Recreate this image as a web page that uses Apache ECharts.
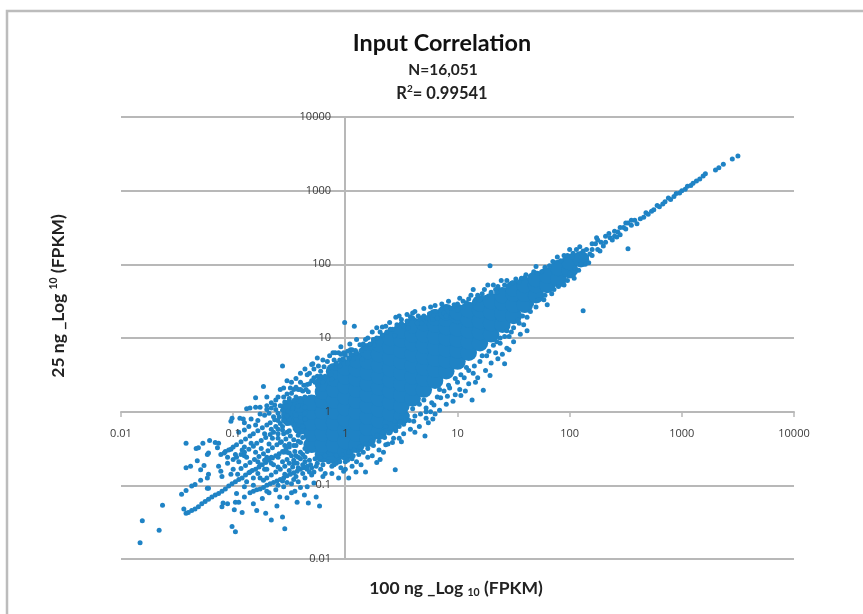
<!DOCTYPE html>
<html><head><meta charset="utf-8">
<script src="https://cdn.jsdelivr.net/npm/echarts@6/dist/echarts.min.js"></script>
<style>html,body{margin:0;padding:0;background:#fff}#c{width:863px;height:614px;filter:blur(0.45px)}</style>
</head><body><div id="c"></div>
<script>
// All values are log10(FPKM) pairs [100 ng, 25 ng].
const tickValues=[0.01,0.1,1,10,100,1000,10000];
const coreBand=[
[-.5,-.08],[-.5,.05],
[-.4,-.2],[-.4,-.05],[-.4,.1],
[-.3,-.45],[-.3,-.3],[-.3,-.15],[-.3,0],[-.3,.12],
[-.2,-.58],[-.2,-.45],[-.2,-.3],[-.2,-.15],[-.2,0],[-.2,.15],[-.2,.27],[-.2,.38],
[-.1,-.6],[-.1,-.45],[-.1,-.3],[-.1,-.15],[-.1,0],[-.1,.15],[-.1,.3],[-.1,.45],[-.1,.55],
[0,-.55],[0,-.4],[0,-.25],[0,-.1],[0,.05],[0,.2],[0,.35],[0,.48],[0,.6],
[.1,-.45],[.1,-.3],[.1,-.15],[.1,0],[.1,.15],[.1,.3],[.1,.45],[.1,.58],[.1,.7],
[.2,-.37],[.2,-.22],[.2,-.07],[.2,.08],[.2,.23],[.2,.38],[.2,.53],[.2,.68],[.2,.82],
[.3,-.27],[.3,-.12],[.3,.03],[.3,.18],[.3,.33],[.3,.48],[.3,.63],[.3,.78],[.3,.92],
[.4,-.17],[.4,-.02],[.4,.13],[.4,.28],[.4,.43],[.4,.58],[.4,.73],[.4,.88],[.4,1],
[.5,-.07],[.5,.08],[.5,.23],[.5,.38],[.5,.53],[.5,.68],[.5,.83],[.5,.98],[.5,1.1],
[.6,.18],[.6,.33],[.6,.48],[.6,.63],[.6,.78],[.6,.93],[.6,1.05],[.6,1.17],
[.7,.3],[.7,.45],[.7,.6],[.7,.75],[.7,.9],[.7,1.05],[.7,1.2],
[.8,.42],[.8,.57],[.8,.72],[.8,.87],[.8,1.02],[.8,1.18],[.8,1.28],
[.9,.55],[.9,.7],[.9,.85],[.9,1],[.9,1.15],[.9,1.26],[.9,1.35],
[1,.68],[1,.83],[1,.98],[1,1.13],[1,1.3],[1,1.35],
[1.1,.8],[1.1,.95],[1.1,1.1],[1.1,1.25],[1.1,1.38],
[1.2,.93],[1.2,1.08],[1.2,1.23],[1.2,1.38],[1.2,1.47],
[1.3,1.05],[1.3,1.2],[1.3,1.35],[1.3,1.5],
[1.4,1.18],[1.4,1.33],[1.4,1.48],[1.4,1.58],
[1.5,1.3],[1.5,1.45],[1.5,1.6],[1.5,1.67],
[1.6,1.45],[1.6,1.6],[1.6,1.72],
[1.7,1.58],[1.7,1.72],[1.7,1.8],
[1.8,1.72],[1.8,1.85],
[1.9,1.8],[1.9,1.95],
[2,1.92],[2,2.03],[2.1,2.07]
];
const lowerLeftOutliers=[
[-1.83,-1.78],[-1.81,-1.48],[-1.66,-1.61],[-1.63,-1.27],[-1.46,-1.12],[-1.42,-1.07],[-1.44,-1.32],[-1.42,-1.38],
[-1.01,-1.56],[-.98,-1.63],[-.54,-1.59],[-.66,-1.47],[-.56,-1.43],[-.71,-1.38],[-.79,-1.34],[-.92,-1.37],[-.99,-1.33],
[-1.1,-1.29],[-1.05,-1.25],[-1.09,-1.24],[-.98,-1.23],[-.95,-1.23],[-.97,-1.11],[-.9,-1.16],[-.82,-1.25],[-.74,-1.18],
[-.61,-1.28],[-.585,-1.16],[-.52,-1.17],[-.43,-1.23],[-.33,-1.24],[-.23,-1.28],[-.26,-1.16],[-.365,-1.13],[-.45,-1.08],
[-.28,-.97],[-.015,-.81],[.03,-.9],[.095,-.82],[.18,-.82],[.445,-.79],[.28,-.69],[.31,-.65],[.5,-.41],[.36,-.45],[.43,-.36]
];
const upperLeftOutliers=[
[-1.42,-.43],[-1.33,-.5],[-1.31,-.49],[-1.27,-.43],[-1.21,-.39],[-1.16,-.42],[-1.13,-.43],[-1.14,-.49],[-1.22,-.56],[-1.23,-.58],
[-1.32,-.665],[-1.38,-.74],[-1.42,-.76],[-1.29,-.79],[-1.26,-.73],[-1.22,-.85],[-1.23,-.9],[-1.29,-.93],[-1.34,-.99],[-1.37,-1.01],
[-1.23,-1.04],[-1.22,-1.04],[-1.13,-.74],[-1.11,-.81],[-1.1,-.88],[-1.02,-.85],[-1.11,-.58],[-1.07,-.54],[-1.02,-.51],[-1.01,-.09],
[-1.02,-.13],[-.94,-.09],[-.91,-.1],[-.88,.04],[-.85,.05],[-.8,.06],[-.76,.06],[-.7,.08],[-.8,.19],[-.73,.34],[-.62,.16],[-.63,.09],
[-.56,.62],[-.55,.32],[-.48,.4],[-.49,.32],[-.48,.25],[-.34,.5],[-.34,.37],[-.3,.64],[-.25,.73],[-.16,.68],[-.09,.8],[-.06,.8],
[-.006,1.21],[.08,1.16],[-.09,.59],[-.19,.61],[-.22,.48],[-.28,.46],[-.13,.5],[-.015,.8],[.045,.84],[.13,.91],[.18,.98],[.31,1.08],
[.33,1.15],[.395,1.21],[.15,.71],[-.04,.88],[.06,.84],[.09,.83],[0,.77],[-.11,.8],[-.29,.65],[-.42,.3],[-.44,.2],[-.38,.28],[-.4,.4],
[-.36,.2],[-.33,.27],[-.2,.4],[-.24,.36],[-.12,.44],[-.05,.62],[.02,.66],[.07,.72],[.22,.86],[.26,.9]
];
const streakMain=[
[-1.4,-1.37],[-1.37,-1.34],[-1.34,-1.32],[-1.31,-1.29],[-1.28,-1.25],[-1.25,-1.22],[-1.22,-1.19],[-1.19,-1.16],[-1.16,-1.13],[-1.13,-1.11],
[-1.1,-1.08],[-1.07,-1.05],[-1.04,-1.01],[-1.01,-.98],[-.98,-.95],[-.95,-.92],[-.92,-.9],[-.89,-.86],[-.86,-.83],[-.83,-.8],[-.8,-.78],
[-.77,-.75],[-.74,-.72],[-.71,-.69],[-.68,-.66],[-.65,-.63],[-.62,-.6],[-.59,-.57],[-.56,-.54],[-.53,-.51],[-.5,-.48]
];
const streakLower=[
[-.85,-1.1],[-.82,-1.08],[-.79,-1.06],[-.76,-1.05],[-.73,-1.03],[-.7,-1],[-.67,-.98],[-.64,-.96],[-.61,-.94],[-.58,-.92],[-.55,-.9],
[-.52,-.87],[-.49,-.85],[-.46,-.83],[-.43,-.81],[-.4,-.78],[-.37,-.76],[-.34,-.74],[-.31,-.72]
];
const streakUpper=[
[-1.08,-.56],[-1.04,-.52],[-1,-.48],[-.97,-.45],[-.93,-.41],[-.89,-.37],[-.85,-.33],[-.82,-.3],[-.78,-.26],[-.74,-.22],[-.7,-.18],
[-.67,-.15],[-.63,-.11],[-.59,-.07],[-.55,-.03],[-.51,.01],[-.47,.05]
];
const streakMiddle=[
[-1,-.65],[-.97,-.62],[-.93,-.58],[-.9,-.55],[-.86,-.51],[-.82,-.47],[-.79,-.43],[-.75,-.39],[-.71,-.35],[-.67,-.31],[-.64,-.28],[-.6,-.24],
[-.56,-.2],[-.52,-.16],[-.93,-.77],[-.89,-.73],[-.85,-.69],[-.81,-.65],[-.77,-.61],[-.73,-.57],[-.69,-.53],[-.65,-.49],[-.61,-.45],[-.57,-.41],[-.53,-.37],[-.49,-.33],
[-.73,-.93],[-.7,-.9],[-.66,-.86],[-.62,-.82],[-.58,-.78],[-.54,-.74],[-.5,-.7],[-.46,-.66],[-.42,-.62],[-.38,-.58],[-.34,-.54]
];
const leftFill=[
[-.95,-.28],[-.9,-.25],[-.78,-.12],[-.72,-.05],[-.68,-.02],[-.62,.03],[-.58,.08],[-.54,.13],[-.5,.18],[-.46,.15],[-.42,.08],[-.4,.14],[-.44,-.05],[-.5,-.1],[-.46,-.18],[-.4,-.08],
[-.42,-.25],[-.38,-.2],[-.38,-.35],[-.36,-.02],[-.36,-.1],[-.36,.06],[-.4,-.42],[-.44,-.46],[-.36,-.5],[-.4,-.55],[-.36,-.62],[-.32,-.66],[-.27,-.64],[-.22,-.62],[-.18,-.6],[-.13,-.58],
[-.08,-.6],[-.03,-.58],[.03,-.55],[.08,-.52],[.13,-.48],[.18,-.44],[.23,-.4],[.28,-.32],[-.28,-.82],[-.22,-.78],[-.18,-.84],[-.12,-.74],[-.08,-.7],[-.04,-.76],[0,-.68],[.06,-.64],[.1,-.68],
[-.6,-.75],[-.56,-.68],[-.66,-.7],[-.72,-.78],[-.78,-.84],[-.82,-.9],[-.88,-.95],[-.62,-1.06],[-.68,-1.1],[-.55,-1.02],[-.48,-.98],[-.42,-.95],[-.36,-.9],[-.3,-.86],[-.48,-1.1],[-.4,-1.03],[-.34,-1.02],
[-.9,-.6],[-.85,-.82],[-.75,-.5],[-.68,-.44],[-.6,-.36],[-.55,-.3],[-.5,-.26],[-.5,-.56],[-.55,-.55],[-.45,-.54],[-.47,-.75],[-.43,-.7],[-.6,-.62],[-.66,-.62],[-.72,-.66],[-.46,-.38],[-.42,-.32],
[-.78,-.68],[-.95,-.68],[-1,-.78],[-.96,-.85],[-.9,-.48],[-.84,-.43],[-.8,-.18],[-.86,-.2],[-.72,-.3],[-.66,-.24],[-.64,-.07],[-.58,-.16],[-.52,-.06],
[-.6,-.02],[-.56,.02],[-.55,-.12],[-.6,-.12],[-.62,-.2],[-.56,-.25],[-.52,-.28],[-.6,-.3],[-.65,-.36],[-.58,-.42],[-.54,-.46],[-.5,-.44],[-.46,-.46],[-.42,-.4],[-.52,-.55],[-.48,-.6],[-.44,-.6],[-.4,-.64],
[-.36,-.68],[-.52,-.65],[-.46,-.7],[-.42,-.76],[-.38,-.72],[-.34,-.78],[-.3,-.76],[-.26,-.74],[-.44,-.88],[-.38,-.84],[-.32,-.82],[-.5,-.8],[-.54,-.85],
[-1.05,-.7],[-1.05,-.62],[-.98,-.58],[-.92,-.52],[-.88,-.62],[-.8,-.55],[-.76,-.72],[-.7,-.62],[-.7,-.78],[-.64,-.72],[-.76,-.9],[-.82,-1],[-.9,-1.02],[-.7,-1.08],[-.6,-1],[-.52,-.96],[-.46,-.92],[-.56,-.94],
[-.9,-.15],[-.84,-.1],[-.76,-.03],[-.7,.03],[-.66,.05]
];
const upperEnvelope=[
[-.55,.2],[-.52,.24],[-.46,.3],[-.44,.33],[-.4,.3],[-.37,.36],[-.35,.3],[-.32,.38],[-.3,.42],[-.27,.4],[-.25,.48],[-.22,.55],[-.18,.48],[-.15,.55],[-.12,.6],[-.08,.66],[-.05,.7],[-.02,.72],[.03,.73],
[.05,.78],[.1,.8],[.14,.83],[.18,.86],[.22,.92],[.25,.98],[.28,1],[.33,1.04],[.37,1.08],[.42,1.12],[.46,1.18],[.5,1.2],[.55,1.23],[.6,1.27],[.65,1.3],[.7,1.3],[.75,1.33],[.8,1.36],[.85,1.38],[.9,1.42],
[.95,1.4],[1,1.46],[1.05,1.5],[1.1,1.53],[1.18,1.58],[1.22,1.6],[1.3,1.62],[1.36,1.7],[1.42,1.72],[1.52,1.8],[1.6,1.82],[1.68,1.9],[1.78,1.96],[1.85,2.04],[1.95,2.12],[2.03,2.15],[2.06,2.2],
[-.58,.3],[-.6,.2],[-.66,.12],[-.7,.2],[-.52,.42],[-.44,.45],[-.4,.52],[-.36,.58],[-.32,.52],[-.28,.58],[-.24,.62],[-.2,.7],[-.14,.76],[-.1,.7],[-.04,.78],[.02,.82],[.04,.92],[.1,.98],[.16,.92],[.2,1],
[.24,1.08],[.28,1.14],[.36,1.16],[.4,1.12],[.45,1.28],[.48,1.3],[.55,1.32],[.6,1.34],[.7,1.4],[.76,1.42],[.8,1.44],[.86,1.46],[.92,1.5],[1.02,1.54],[1.12,1.58],[1.24,1.66],[1.32,1.72],[1.44,1.78]
];
const lowerEnvelope=[
[-.25,-.7],[-.2,-.72],[-.15,-.68],[-.1,-.72],[-.05,-.68],[.02,-.66],[.07,-.6],[.12,-.58],[.16,-.55],[.2,-.5],[.25,-.46],[.3,-.4],[.35,-.35],[.4,-.28],[.45,-.26],[.48,-.2],[.52,-.17],[.57,-.12],[.62,-.06],
[.67,-.03],[.72,.05],[.77,.12],[.82,.2],[.88,.28],[.93,.32],[.98,.45],[1.03,.5],[1.08,.6],[1.15,.62],[1.22,.76],[1.28,.82],[1.35,.95],[1.42,1.02],[1.48,1.08],[1.55,1.2],[1.62,1.28],[1.7,1.42],[1.77,1.52],
[1.84,1.6],[1.9,1.7],[1.98,1.78],[2.02,1.85],[2.08,1.92],[2.14,2],
[-.2,-.88],[-.12,-.84],[-.06,-.9],[0,-.78],[.06,-.74],[.14,-.72],[.2,-.62],[.24,-.6],[.3,-.52],[.34,-.55],[.38,-.44],[.42,-.42],[.48,-.36],[.52,-.3],[.58,-.24],[.62,-.28],[.66,-.2],[.74,-.15],[.78,-.1],
[.84,.02],[.9,.1],[.96,.14],[1.02,.3],[1.1,.38],[1.18,.46],[1.3,.66],[1.36,.72],[1.4,.78],[1.5,.95],[1.56,1.05]
];
const lowerRightEdge=[
[.72,-.09],[.8,-.03],[.72,0],[.71,-.33],[.49,-.14],[.61,-.13],[.45,-.22],[.39,-.29],[.91,.21],[.98,.23],[1.07,.28],[1.03,.22],[1.13,.16],[1.23,.29],
[1.16,.4],[1.29,.49],[1.25,.56],[1.14,.52],[1.42,.65],[1.44,.86],[1.46,.84],[1.34,.8],[1.38,.93],[1.46,1.02],[1.62,1.1],[1.59,1.18],[1.5,1.14],
[1.65,1.36],[1.8,1.45],[2.04,1.81],[2.17,2.02],[.85,.19],[.79,.09],[.76,0],[.55,-.05],[.6,.04],[.66,.1],[.7,.16],[.5,-.08],[.44,-.13],[.33,-.28],[.36,-.2],
[.84,.3],[.92,.36],[1,.4],[1.06,.46],[1.1,.56],[1.2,.68],[1.26,.76],[1.32,.9],[1.38,1],[1.44,1.1],[1.54,1.24],[1.58,1.3],[1.66,1.46],[1.72,1.52],[1.78,1.58],[1.86,1.66],[1.95,1.72],[2.05,1.9]
];
const upperRightEdge=[
[.5,1.25],[.58,1.29],[.62,1.36],[.52,1.16],[.64,1.2],[.73,1.27],[.82,1.27],[.88,1.34],[.97,1.45],[1.08,1.48],[1.14,1.66],[1.2,1.52],[1.27,1.72],
[1.34,1.66],[1.39,1.78],[1.49,1.75],[1.57,1.81],[1.61,1.86],[1.71,1.88],[1.89,2.1],[2,2.2],[2.09,2.24],[2.24,2.36],[1.29,1.98],[1.7,1.97],[2.12,1.37],[2.52,2.21],
[.44,1.03],[.56,1.14],[.68,1.2],[.78,1.25],[.9,1.3],[1,1.38],[1.05,1.42],[1.15,1.48],[1.25,1.55],[1.35,1.62],[1.45,1.7],[1.55,1.76],[1.65,1.84],[1.75,1.9],[1.82,1.98],[1.92,2.05],[1.98,2.12]
];
const highExpressionTail=[
[2,1.88],[2.02,2.1],[2.05,1.95],[2.1,2],[2.12,2.18],[2.1,2.1],[2.15,2.2],[2.15,2.1],[2.2,2.2],[2.18,2.14],[2.23,2.28],[2.25,2.2],[2.28,2.3],[2.32,2.3],[2.32,2.38],[2.36,2.36],[2.4,2.38],[2.4,2.45],
[2.43,2.44],[2.45,2.4],[2.48,2.5],[2.5,2.48],[2.52,2.56],[2.55,2.53],[2.58,2.6],[2.6,2.55],[2.63,2.62],[2.66,2.64],[2.68,2.7],[2.7,2.68],[2.73,2.72],[2.75,2.74],[2.78,2.8],[2.8,2.78],
[2.83,2.82],[2.85,2.85],[2.88,2.9],[2.9,2.88],[2.93,2.92],[2.95,2.96],[2.98,2.97],[3,3],[3.03,3.02],[3.05,3.06],[3.08,3.07],[3.1,3.1],[3.13,3.13],[3.16,3.16],[3.19,3.2],[3.21,3.23],
[3.3,3.28],[3.33,3.31],[3.37,3.36],[3.45,3.43],[3.5,3.47],
[2.2,2.28],[2.25,2.33],[2.3,2.25],[2.35,2.42],[2.38,2.33],[2.42,2.37],[2.45,2.5],[2.5,2.56],[2.55,2.6],[2.2,2.12],[2.27,2.18]
];

const groupsSmall=[lowerLeftOutliers,upperLeftOutliers,streakMain,streakLower,streakUpper,streakMiddle,leftFill,upperEnvelope,lowerEnvelope,lowerRightEdge,upperRightEdge,highExpressionTail];
const toFpkm=p=>[Math.pow(10,p[0]),Math.pow(10,p[1])];
const pointColor='#1f83c5', gridColor='#b8b8b8', labelColor='#3a3a3a';
const labelFont='"Open Sans"', titleFont='Lato';
const logAxis={type:'log',logBase:10,min:tickValues[0],max:tickValues[tickValues.length-1]};
const plainLabel=v=>String(v);
const chart=echarts.init(document.getElementById('c'),null,{renderer:'canvas'});
chart.setOption({
 animation:false,backgroundColor:'#fff',
 grid:{left:121,right:69,top:117,bottom:55,containLabel:false},
 title:[
  {text:'Input Correlation',left:437,top:27,textAlign:'center',textStyle:{fontFamily:titleFont,fontSize:23.4,fontWeight:'bold',color:'#111'}},
  {text:'N=16,051',left:438,top:57,textAlign:'center',textStyle:{fontFamily:titleFont,fontSize:15.5,fontWeight:'bold',color:'#222'}},
  {text:'{a|R}{s|2}{a|= 0.99541}',left:437,top:79,textAlign:'center',textStyle:{rich:{
    a:{fontFamily:titleFont,fontSize:16.5,fontWeight:'bold',color:'#222',lineHeight:19},
    s:{fontFamily:titleFont,fontSize:10,fontWeight:'bold',color:'#222',verticalAlign:'top',lineHeight:19}}}}
 ],
 xAxis:[
  Object.assign({},logAxis,{position:'bottom',offset:-147,z:1,axisLine:{onZero:false,show:true,lineStyle:{color:gridColor,width:2}},axisTick:{show:true,length:5,lineStyle:{color:gridColor,width:1.5}},axisLabel:{show:false},splitLine:{show:false},minorTick:{show:false}}),
  Object.assign({},logAxis,{position:'bottom',offset:-147,z:10,axisLine:{onZero:false,show:false},axisTick:{show:false},splitLine:{show:false},axisLabel:{show:true,margin:16,color:labelColor,fontFamily:labelFont,fontSize:11,formatter:plainLabel,showMinLabel:true,showMaxLabel:true,hideOverlap:false}})
 ],
 yAxis:[
  Object.assign({},logAxis,{position:'left',offset:-224,z:1,axisLine:{onZero:false,show:true,lineStyle:{color:gridColor,width:2}},axisTick:{show:false},axisLabel:{show:false},splitLine:{show:true,lineStyle:{color:gridColor,width:2}}}),
  Object.assign({},logAxis,{position:'left',offset:-224,z:10,axisLine:{onZero:false,show:false},axisTick:{show:false},splitLine:{show:false},axisLabel:{show:true,margin:14,color:labelColor,fontFamily:labelFont,fontSize:11,formatter:plainLabel,showMinLabel:true,showMaxLabel:true,hideOverlap:false}})
 ],
 series:[
  {name:'core',type:'scatter',xAxisIndex:0,yAxisIndex:0,z:3,symbolSize:16.5,itemStyle:{color:pointColor,opacity:1},data:coreBand.map(toFpkm),silent:true},
  {name:'genes',type:'scatter',xAxisIndex:0,yAxisIndex:0,z:3,symbolSize:5,itemStyle:{color:pointColor,opacity:1},data:[].concat(...groupsSmall).map(toFpkm),silent:true}
 ],
 graphic:[
  {type:'polyline',silent:true,z:0,shape:{points:[[7,614],[7,11],[863,11]]},style:{stroke:'#bcbcbc',lineWidth:2.5,fill:null}},
  {type:'text',silent:true,x:58,y:296,rotation:Math.PI/2,style:{text:'{a|25 ng _Log }{s|10}{a| (FPKM)}',align:'center',verticalAlign:'middle',rich:{
    a:{fontFamily:titleFont,fontSize:17.5,fontWeight:'bold',fill:'#222',lineHeight:20},
    s:{fontFamily:titleFont,fontSize:10.5,fontWeight:'bold',fill:'#222',verticalAlign:'top',lineHeight:20}}}},
  {type:'text',silent:true,x:456,y:588,style:{text:'{a|100 ng _Log }{s|10}{a| (FPKM)}',align:'center',verticalAlign:'middle',rich:{
    a:{fontFamily:titleFont,fontSize:17.5,fontWeight:'bold',fill:'#222',lineHeight:20},
    s:{fontFamily:titleFont,fontSize:10.5,fontWeight:'bold',fill:'#222',verticalAlign:'bottom',lineHeight:20}}}}
 ]
});
</script></body></html>
